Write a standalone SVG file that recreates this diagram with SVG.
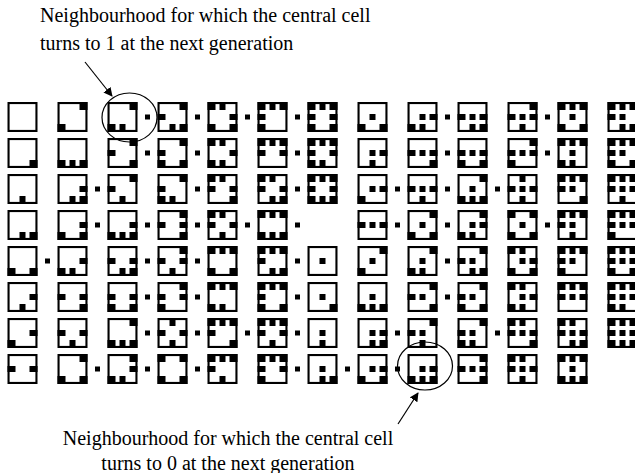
<svg xmlns="http://www.w3.org/2000/svg" width="635" height="473" viewBox="0 0 635 473">
  <style>
    .fr { fill: none; stroke: #000; stroke-width: 2.1; }
    .b { fill: #000; }
    .lbl { font-family: "Liberation Serif", "Times New Roman", serif; font-size: 20px; fill: #000; }
    .ring { fill: none; stroke: #000; stroke-width: 1.2; }
    .arr { fill: none; stroke: #000; stroke-width: 1.2; marker-end: url(#head); }
  </style>
  <defs>
    <marker id="head" viewBox="0 0 10 10" refX="9" refY="5" markerWidth="9" markerHeight="9" markerUnits="userSpaceOnUse" orient="auto">
      <path d="M0,0 L10,5 L0,10 z" fill="#000"/>
    </marker>
    <!-- cell frame and the nine block positions, relative to a 30x30 cell -->
    <rect id="F" class="fr" x="1.05" y="1.05" width="27.9" height="27.9"/>
    <rect id="NW" class="b" x="0" y="0" width="8" height="8"/>
    <rect id="N" class="b" x="12" y="0" width="6" height="8"/>
    <rect id="NE" class="b" x="22" y="0" width="8" height="8"/>
    <rect id="W" class="b" x="0" y="12" width="8" height="6"/>
    <rect id="C" class="b" x="12" y="12" width="6" height="6"/>
    <rect id="E" class="b" x="22" y="12" width="8" height="6"/>
    <rect id="SW" class="b" x="0" y="22" width="8" height="8"/>
    <rect id="S" class="b" x="12" y="22" width="6" height="8"/>
    <rect id="SE" class="b" x="22" y="22" width="8" height="8"/>
    <rect id="dot" class="b" x="-2.5" y="-2.5" width="5" height="5"/>
  </defs>

  <!-- labels -->
  <g id="label-top">
    <text class="lbl" x="40" y="22">Neighbourhood for which the central cell</text>
    <text class="lbl" x="40" y="50">turns to 1 at the next generation</text>
  </g>
  <g id="label-bottom">
    <text class="lbl" x="228" y="445" text-anchor="middle">Neighbourhood for which the central cell</text>
    <text class="lbl" x="228" y="470" text-anchor="middle">turns to 0 at the next generation</text>
  </g>

  <!-- centre cell empty: column 0 -->
  <g id="c0-r0" transform="translate(7.5,102)"><use href="#F"/></g>
  <g id="c0-r1" transform="translate(7.5,138)"><use href="#F"/><use href="#SE"/></g>
  <g id="c0-r2" transform="translate(7.5,174)"><use href="#F"/><use href="#S"/></g>
  <g id="c0-r3" transform="translate(7.5,210)"><use href="#F"/><use href="#S"/><use href="#SE"/></g>
  <g id="c0-r4" transform="translate(7.5,246)"><use href="#F"/><use href="#SW"/><use href="#SE"/></g>
  <g id="c0-r5" transform="translate(7.5,282)"><use href="#F"/><use href="#E"/><use href="#S"/></g>
  <g id="c0-r6" transform="translate(7.5,318)"><use href="#F"/><use href="#E"/><use href="#SW"/></g>
  <g id="c0-r7" transform="translate(7.5,354)"><use href="#F"/><use href="#W"/><use href="#E"/></g>
  <!-- column 1 -->
  <g id="c1-r0" transform="translate(57.5,102)"><use href="#F"/><use href="#NE"/><use href="#SW"/></g>
  <g id="c1-r1" transform="translate(57.5,138)"><use href="#F"/><use href="#SW"/><use href="#S"/><use href="#SE"/></g>
  <g id="c1-r2" transform="translate(57.5,174)"><use href="#F"/><use href="#E"/><use href="#S"/><use href="#SE"/></g>
  <g id="c1-r3" transform="translate(57.5,210)"><use href="#F"/><use href="#E"/><use href="#SW"/><use href="#SE"/></g>
  <g id="c1-r4" transform="translate(57.5,246)"><use href="#F"/><use href="#E"/><use href="#SW"/><use href="#S"/></g>
  <g id="c1-r5" transform="translate(57.5,282)"><use href="#F"/><use href="#W"/><use href="#E"/><use href="#SE"/></g>
  <g id="c1-r6" transform="translate(57.5,318)"><use href="#F"/><use href="#W"/><use href="#E"/><use href="#S"/></g>
  <g id="c1-r7" transform="translate(57.5,354)"><use href="#F"/><use href="#NE"/><use href="#SW"/><use href="#SE"/></g>
  <!-- column 2 -->
  <g id="c2-r0" transform="translate(107.5,102)"><use href="#F"/><use href="#NE"/><use href="#SW"/><use href="#S"/></g>
  <g id="c2-r1" transform="translate(107.5,138)"><use href="#F"/><use href="#NE"/><use href="#W"/><use href="#SE"/></g>
  <g id="c2-r2" transform="translate(107.5,174)"><use href="#F"/><use href="#NE"/><use href="#W"/><use href="#S"/></g>
  <g id="c2-r3" transform="translate(107.5,210)"><use href="#F"/><use href="#E"/><use href="#SW"/><use href="#S"/><use href="#SE"/></g>
  <g id="c2-r4" transform="translate(107.5,246)"><use href="#F"/><use href="#W"/><use href="#E"/><use href="#S"/><use href="#SE"/></g>
  <g id="c2-r5" transform="translate(107.5,282)"><use href="#F"/><use href="#W"/><use href="#E"/><use href="#SW"/><use href="#SE"/></g>
  <g id="c2-r6" transform="translate(107.5,318)"><use href="#F"/><use href="#NE"/><use href="#SW"/><use href="#S"/><use href="#SE"/></g>
  <g id="c2-r7" transform="translate(107.5,354)"><use href="#F"/><use href="#NE"/><use href="#E"/><use href="#SW"/><use href="#S"/></g>
  <!-- column 3 -->
  <g id="c3-r0" transform="translate(157.5,102)"><use href="#F"/><use href="#NE"/><use href="#W"/><use href="#S"/><use href="#SE"/></g>
  <g id="c3-r1" transform="translate(157.5,138)"><use href="#F"/><use href="#NE"/><use href="#W"/><use href="#SW"/><use href="#SE"/></g>
  <g id="c3-r2" transform="translate(157.5,174)"><use href="#F"/><use href="#NE"/><use href="#W"/><use href="#SW"/><use href="#S"/></g>
  <g id="c3-r3" transform="translate(157.5,210)"><use href="#F"/><use href="#NE"/><use href="#W"/><use href="#E"/><use href="#SE"/></g>
  <g id="c3-r4" transform="translate(157.5,246)"><use href="#F"/><use href="#NE"/><use href="#W"/><use href="#E"/><use href="#S"/></g>
  <g id="c3-r5" transform="translate(157.5,282)"><use href="#F"/><use href="#NE"/><use href="#W"/><use href="#E"/><use href="#SW"/></g>
  <g id="c3-r6" transform="translate(157.5,318)"><use href="#F"/><use href="#N"/><use href="#W"/><use href="#E"/><use href="#S"/></g>
  <g id="c3-r7" transform="translate(157.5,354)"><use href="#F"/><use href="#NW"/><use href="#NE"/><use href="#SW"/><use href="#SE"/></g>
  <!-- column 4 -->
  <g id="c4-r0" transform="translate(207.5,102)"><use href="#F"/><use href="#NW"/><use href="#N"/><use href="#E"/><use href="#SW"/><use href="#SE"/></g>
  <g id="c4-r1" transform="translate(207.5,138)"><use href="#F"/><use href="#NW"/><use href="#N"/><use href="#E"/><use href="#SW"/><use href="#S"/></g>
  <g id="c4-r2" transform="translate(207.5,174)"><use href="#F"/><use href="#NW"/><use href="#N"/><use href="#W"/><use href="#E"/><use href="#SE"/></g>
  <g id="c4-r3" transform="translate(207.5,210)"><use href="#F"/><use href="#NW"/><use href="#N"/><use href="#W"/><use href="#E"/><use href="#S"/></g>
  <g id="c4-r4" transform="translate(207.5,246)"><use href="#F"/><use href="#NW"/><use href="#N"/><use href="#NE"/><use href="#SW"/><use href="#SE"/></g>
  <g id="c4-r5" transform="translate(207.5,282)"><use href="#F"/><use href="#NW"/><use href="#N"/><use href="#NE"/><use href="#SW"/><use href="#S"/></g>
  <g id="c4-r6" transform="translate(207.5,318)"><use href="#F"/><use href="#NW"/><use href="#N"/><use href="#NE"/><use href="#W"/><use href="#SE"/></g>
  <g id="c4-r7" transform="translate(207.5,354)"><use href="#F"/><use href="#NW"/><use href="#N"/><use href="#NE"/><use href="#W"/><use href="#S"/></g>
  <!-- column 5 -->
  <g id="c5-r0" transform="translate(257.5,102)"><use href="#F"/><use href="#NW"/><use href="#N"/><use href="#NE"/><use href="#W"/><use href="#SW"/></g>
  <g id="c5-r1" transform="translate(257.5,138)"><use href="#F"/><use href="#NW"/><use href="#N"/><use href="#NE"/><use href="#W"/><use href="#E"/></g>
  <g id="c5-r2" transform="translate(257.5,174)"><use href="#F"/><use href="#NW"/><use href="#N"/><use href="#W"/><use href="#E"/><use href="#S"/><use href="#SE"/></g>
  <g id="c5-r3" transform="translate(257.5,210)"><use href="#F"/><use href="#NW"/><use href="#N"/><use href="#NE"/><use href="#SW"/><use href="#S"/><use href="#SE"/></g>
  <g id="c5-r4" transform="translate(257.5,246)"><use href="#F"/><use href="#NW"/><use href="#N"/><use href="#NE"/><use href="#W"/><use href="#S"/><use href="#SE"/></g>
  <g id="c5-r5" transform="translate(257.5,282)"><use href="#F"/><use href="#NW"/><use href="#N"/><use href="#NE"/><use href="#W"/><use href="#SW"/><use href="#SE"/></g>
  <g id="c5-r6" transform="translate(257.5,318)"><use href="#F"/><use href="#NW"/><use href="#N"/><use href="#NE"/><use href="#W"/><use href="#E"/><use href="#S"/></g>
  <g id="c5-r7" transform="translate(257.5,354)"><use href="#F"/><use href="#NW"/><use href="#N"/><use href="#NE"/><use href="#W"/><use href="#E"/><use href="#SW"/></g>
  <!-- column 6: last empty-centre cells, then occupied-centre cells -->
  <g id="c6-r0" transform="translate(307.5,102)"><use href="#F"/><use href="#NW"/><use href="#N"/><use href="#NE"/><use href="#W"/><use href="#E"/><use href="#SW"/><use href="#SE"/></g>
  <g id="c6-r1" transform="translate(307.5,138)"><use href="#F"/><use href="#NW"/><use href="#N"/><use href="#NE"/><use href="#W"/><use href="#E"/><use href="#SW"/><use href="#S"/></g>
  <g id="c6-r2" transform="translate(307.5,174)"><use href="#F"/><use href="#NW"/><use href="#N"/><use href="#NE"/><use href="#W"/><use href="#E"/><use href="#SW"/><use href="#S"/><use href="#SE"/></g>
  <g id="c6-r4" transform="translate(307.5,246)"><use href="#F"/><use href="#C"/></g>
  <g id="c6-r5" transform="translate(307.5,282)"><use href="#F"/><use href="#C"/><use href="#SE"/></g>
  <g id="c6-r6" transform="translate(307.5,318)"><use href="#F"/><use href="#C"/><use href="#S"/></g>
  <g id="c6-r7" transform="translate(307.5,354)"><use href="#F"/><use href="#C"/><use href="#S"/><use href="#SE"/></g>
  <!-- column 7 -->
  <g id="c7-r0" transform="translate(357.5,102)"><use href="#F"/><use href="#C"/><use href="#SW"/><use href="#SE"/></g>
  <g id="c7-r1" transform="translate(357.5,138)"><use href="#F"/><use href="#C"/><use href="#E"/><use href="#S"/></g>
  <g id="c7-r2" transform="translate(357.5,174)"><use href="#F"/><use href="#C"/><use href="#E"/><use href="#SW"/></g>
  <g id="c7-r3" transform="translate(357.5,210)"><use href="#F"/><use href="#C"/><use href="#W"/><use href="#E"/></g>
  <g id="c7-r4" transform="translate(357.5,246)"><use href="#F"/><use href="#C"/><use href="#NE"/><use href="#SW"/></g>
  <g id="c7-r5" transform="translate(357.5,282)"><use href="#F"/><use href="#C"/><use href="#SW"/><use href="#S"/><use href="#SE"/></g>
  <g id="c7-r6" transform="translate(357.5,318)"><use href="#F"/><use href="#C"/><use href="#E"/><use href="#S"/><use href="#SE"/></g>
  <g id="c7-r7" transform="translate(357.5,354)"><use href="#F"/><use href="#C"/><use href="#E"/><use href="#SW"/><use href="#SE"/></g>
  <!-- column 8 -->
  <g id="c8-r0" transform="translate(407.5,102)"><use href="#F"/><use href="#C"/><use href="#E"/><use href="#SW"/><use href="#S"/></g>
  <g id="c8-r1" transform="translate(407.5,138)"><use href="#F"/><use href="#C"/><use href="#W"/><use href="#E"/><use href="#SE"/></g>
  <g id="c8-r2" transform="translate(407.5,174)"><use href="#F"/><use href="#C"/><use href="#W"/><use href="#E"/><use href="#S"/></g>
  <g id="c8-r3" transform="translate(407.5,210)"><use href="#F"/><use href="#C"/><use href="#NE"/><use href="#SW"/><use href="#SE"/></g>
  <g id="c8-r4" transform="translate(407.5,246)"><use href="#F"/><use href="#C"/><use href="#NE"/><use href="#SW"/><use href="#S"/></g>
  <g id="c8-r5" transform="translate(407.5,282)"><use href="#F"/><use href="#C"/><use href="#NE"/><use href="#W"/><use href="#SE"/></g>
  <g id="c8-r6" transform="translate(407.5,318)"><use href="#F"/><use href="#C"/><use href="#NE"/><use href="#W"/><use href="#S"/></g>
  <g id="c8-r7" transform="translate(407.5,354)"><use href="#F"/><use href="#C"/><use href="#E"/><use href="#SW"/><use href="#S"/><use href="#SE"/></g>
  <!-- column 9 -->
  <g id="c9-r0" transform="translate(457.5,102)"><use href="#F"/><use href="#C"/><use href="#W"/><use href="#E"/><use href="#S"/><use href="#SE"/></g>
  <g id="c9-r1" transform="translate(457.5,138)"><use href="#F"/><use href="#C"/><use href="#W"/><use href="#E"/><use href="#SW"/><use href="#SE"/></g>
  <g id="c9-r2" transform="translate(457.5,174)"><use href="#F"/><use href="#C"/><use href="#NE"/><use href="#SW"/><use href="#S"/><use href="#SE"/></g>
  <g id="c9-r3" transform="translate(457.5,210)"><use href="#F"/><use href="#C"/><use href="#NE"/><use href="#E"/><use href="#SW"/><use href="#S"/></g>
  <g id="c9-r4" transform="translate(457.5,246)"><use href="#F"/><use href="#C"/><use href="#NE"/><use href="#W"/><use href="#S"/><use href="#SE"/></g>
  <g id="c9-r5" transform="translate(457.5,282)"><use href="#F"/><use href="#C"/><use href="#NE"/><use href="#W"/><use href="#SW"/><use href="#SE"/></g>
  <g id="c9-r6" transform="translate(457.5,318)"><use href="#F"/><use href="#C"/><use href="#NE"/><use href="#W"/><use href="#SW"/><use href="#S"/></g>
  <g id="c9-r7" transform="translate(457.5,354)"><use href="#F"/><use href="#C"/><use href="#NE"/><use href="#W"/><use href="#E"/><use href="#SE"/></g>
  <!-- column 10 -->
  <g id="c10-r0" transform="translate(507.5,102)"><use href="#F"/><use href="#C"/><use href="#NE"/><use href="#W"/><use href="#E"/><use href="#S"/></g>
  <g id="c10-r1" transform="translate(507.5,138)"><use href="#F"/><use href="#C"/><use href="#NE"/><use href="#W"/><use href="#E"/><use href="#SW"/></g>
  <g id="c10-r2" transform="translate(507.5,174)"><use href="#F"/><use href="#C"/><use href="#N"/><use href="#W"/><use href="#E"/><use href="#S"/></g>
  <g id="c10-r3" transform="translate(507.5,210)"><use href="#F"/><use href="#C"/><use href="#NW"/><use href="#NE"/><use href="#SW"/><use href="#SE"/></g>
  <g id="c10-r4" transform="translate(507.5,246)"><use href="#F"/><use href="#C"/><use href="#NW"/><use href="#N"/><use href="#E"/><use href="#SW"/><use href="#SE"/></g>
  <g id="c10-r5" transform="translate(507.5,282)"><use href="#F"/><use href="#C"/><use href="#NW"/><use href="#N"/><use href="#E"/><use href="#SW"/><use href="#S"/></g>
  <g id="c10-r6" transform="translate(507.5,318)"><use href="#F"/><use href="#C"/><use href="#NW"/><use href="#N"/><use href="#W"/><use href="#E"/><use href="#SE"/></g>
  <g id="c10-r7" transform="translate(507.5,354)"><use href="#F"/><use href="#C"/><use href="#NW"/><use href="#N"/><use href="#W"/><use href="#E"/><use href="#S"/></g>
  <!-- column 11 -->
  <g id="c11-r0" transform="translate(557.5,102)"><use href="#F"/><use href="#C"/><use href="#NW"/><use href="#N"/><use href="#NE"/><use href="#SW"/><use href="#SE"/></g>
  <g id="c11-r1" transform="translate(557.5,138)"><use href="#F"/><use href="#C"/><use href="#NW"/><use href="#N"/><use href="#NE"/><use href="#SW"/><use href="#S"/></g>
  <g id="c11-r2" transform="translate(557.5,174)"><use href="#F"/><use href="#C"/><use href="#NW"/><use href="#N"/><use href="#NE"/><use href="#W"/><use href="#SE"/></g>
  <g id="c11-r3" transform="translate(557.5,210)"><use href="#F"/><use href="#C"/><use href="#NW"/><use href="#N"/><use href="#NE"/><use href="#W"/><use href="#S"/></g>
  <g id="c11-r4" transform="translate(557.5,246)"><use href="#F"/><use href="#C"/><use href="#NW"/><use href="#N"/><use href="#NE"/><use href="#W"/><use href="#SW"/></g>
  <g id="c11-r5" transform="translate(557.5,282)"><use href="#F"/><use href="#C"/><use href="#NW"/><use href="#N"/><use href="#NE"/><use href="#W"/><use href="#E"/></g>
  <g id="c11-r6" transform="translate(557.5,318)"><use href="#F"/><use href="#C"/><use href="#NW"/><use href="#N"/><use href="#W"/><use href="#E"/><use href="#S"/><use href="#SE"/></g>
  <g id="c11-r7" transform="translate(557.5,354)"><use href="#F"/><use href="#C"/><use href="#NW"/><use href="#N"/><use href="#NE"/><use href="#SW"/><use href="#S"/><use href="#SE"/></g>
  <!-- column 12 -->
  <g id="c12-r0" transform="translate(607.5,102)"><use href="#F"/><use href="#C"/><use href="#NW"/><use href="#N"/><use href="#NE"/><use href="#W"/><use href="#S"/><use href="#SE"/></g>
  <g id="c12-r1" transform="translate(607.5,138)"><use href="#F"/><use href="#C"/><use href="#NW"/><use href="#N"/><use href="#NE"/><use href="#W"/><use href="#SW"/><use href="#SE"/></g>
  <g id="c12-r2" transform="translate(607.5,174)"><use href="#F"/><use href="#C"/><use href="#NW"/><use href="#N"/><use href="#NE"/><use href="#W"/><use href="#E"/><use href="#S"/></g>
  <g id="c12-r3" transform="translate(607.5,210)"><use href="#F"/><use href="#C"/><use href="#NW"/><use href="#N"/><use href="#NE"/><use href="#W"/><use href="#E"/><use href="#SW"/></g>
  <g id="c12-r4" transform="translate(607.5,246)"><use href="#F"/><use href="#C"/><use href="#NW"/><use href="#N"/><use href="#NE"/><use href="#W"/><use href="#E"/><use href="#SW"/><use href="#SE"/></g>
  <g id="c12-r5" transform="translate(607.5,282)"><use href="#F"/><use href="#C"/><use href="#NW"/><use href="#N"/><use href="#NE"/><use href="#W"/><use href="#E"/><use href="#SW"/><use href="#S"/></g>
  <g id="c12-r6" transform="translate(607.5,318)"><use href="#F"/><use href="#C"/><use href="#NW"/><use href="#N"/><use href="#NE"/><use href="#W"/><use href="#E"/><use href="#SW"/><use href="#S"/><use href="#SE"/></g>

  <!-- connectors: link dots between neighbouring cells, callout rings and arrows -->
  <g id="connectors">
    <use href="#dot" x="147.5" y="117"/><use href="#dot" x="197.5" y="117"/><use href="#dot" x="247.5" y="117"/><use href="#dot" x="297.5" y="117"/><use href="#dot" x="447.5" y="117"/><use href="#dot" x="547.5" y="117"/>
    <use href="#dot" x="147.5" y="153"/><use href="#dot" x="197.5" y="153"/><use href="#dot" x="297.5" y="153"/><use href="#dot" x="447.5" y="153"/><use href="#dot" x="547.5" y="153"/>
    <use href="#dot" x="97.5" y="189"/><use href="#dot" x="197.5" y="189"/><use href="#dot" x="297.5" y="189"/><use href="#dot" x="397.5" y="189"/><use href="#dot" x="447.5" y="189"/><use href="#dot" x="497.5" y="189"/>
    <use href="#dot" x="97.5" y="225"/><use href="#dot" x="147.5" y="225"/><use href="#dot" x="197.5" y="225"/><use href="#dot" x="247.5" y="225"/><use href="#dot" x="297.5" y="225"/><use href="#dot" x="397.5" y="225"/><use href="#dot" x="447.5" y="225"/><use href="#dot" x="547.5" y="225"/>
    <use href="#dot" x="47.5" y="261"/><use href="#dot" x="147.5" y="261"/><use href="#dot" x="197.5" y="261"/><use href="#dot" x="297.5" y="261"/><use href="#dot" x="447.5" y="261"/>
    <use href="#dot" x="147.5" y="297"/><use href="#dot" x="197.5" y="297"/><use href="#dot" x="297.5" y="297"/><use href="#dot" x="447.5" y="297"/>
    <use href="#dot" x="147.5" y="333"/><use href="#dot" x="197.5" y="333"/><use href="#dot" x="247.5" y="333"/><use href="#dot" x="297.5" y="333"/><use href="#dot" x="397.5" y="333"/><use href="#dot" x="497.5" y="333"/>
    <use href="#dot" x="97.5" y="369"/><use href="#dot" x="147.5" y="369"/><use href="#dot" x="197.5" y="369"/><use href="#dot" x="297.5" y="369"/><use href="#dot" x="347.5" y="369"/><use href="#dot" x="397.5" y="369"/>

    <ellipse class="ring" cx="129.5" cy="117.5" rx="27.5" ry="24.5"/>
    <ellipse class="ring" cx="425" cy="366" rx="27.5" ry="24"/>
    <line class="arr" x1="85" y1="62" x2="112" y2="96"/>
    <line class="arr" x1="398" y1="424" x2="418" y2="393"/>
  </g>
</svg>
